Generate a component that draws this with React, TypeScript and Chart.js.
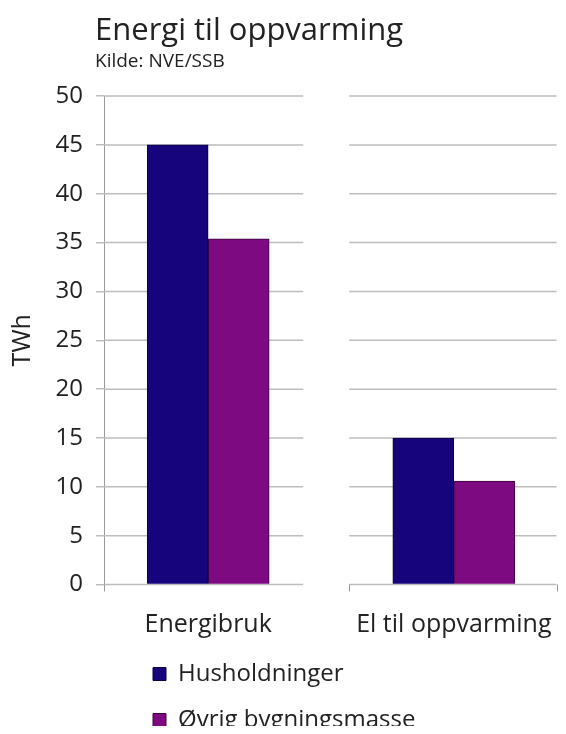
import { useEffect, useRef } from "react";
import { Chart, registerables } from "chart.js";

Chart.register(...registerables);

// ---- data ----
const categories = ["Energibruk", "El til oppvarming"];
const seriesNames = ["Husholdninger", "Øvrig bygningsmasse"];
const husholdninger = [45, 15];
const ovrigBygningsmasse = [35.4, 10.6];
const yTickValues = [0, 5, 10, 15, 20, 25, 30, 35, 40, 45, 50];
const titleText = "Energi til oppvarming";
const subtitleText = "Kilde: NVE/SSB";
const yAxisTitle = "TWh";

// ---- styling / layout constants ----
const FONT = "'Open Sans', 'DejaVu Sans', sans-serif";
const TEXT = "#222222";
const X_MIN = -0.424;
const X_MAX = 1.418;
const GAP_START = 0.387;
const GAP_END = 0.574;

const splitGrid = {
  id: "splitGrid",
  beforeDatasetsDraw(chart: any) {
    const { ctx } = chart;
    const x = chart.scales.x;
    const y = chart.scales.y;
    const segs = [
      [X_MIN, GAP_START],
      [GAP_END, X_MAX],
    ];
    ctx.save();
    ctx.strokeStyle = "#bdbdbd";
    ctx.lineWidth = 1.5;
    y.ticks.forEach((t: any) => {
      const py = y.getPixelForValue(t.value);
      segs.forEach(([a, b]) => {
        ctx.beginPath();
        ctx.moveTo(x.getPixelForValue(a), py);
        ctx.lineTo(x.getPixelForValue(b), py);
        ctx.stroke();
      });
    });
    const py0 = y.getPixelForValue(0);
    ctx.strokeStyle = "#9a9a9a";
    ctx.lineWidth = 1;
    [X_MIN, GAP_END, X_MAX].forEach((v) => {
      const px = Math.round(x.getPixelForValue(v)) + 0.5;
      ctx.beginPath();
      ctx.moveTo(px, py0);
      ctx.lineTo(px, py0 + 7);
      ctx.stroke();
    });
    ctx.restore();
  },
};

const nudge = {
  id: "nudge",
  afterLayout(chart: any) {
    chart.boxes.forEach((b: any) => {
      if (b !== chart.legend && b.options && typeof b.options.text === "string") {
        b.left -= 9;
        b.right -= 9;
      }
    });
    if (chart.legend) {
      chart.legend.left += 27;
      chart.legend.right += 27;
    }
  },
};

export default function App() {
  const ref = useRef<HTMLCanvasElement | null>(null);

  useEffect(() => {
    if (!ref.current) return;
    const chart = new Chart(ref.current, {
      type: "bar",
      data: {
        datasets: [
          {
            label: seriesNames[0],
            data: categories.map((_, i) => ({ x: i, y: husholdninger[i] })),
            backgroundColor: "#16047c",
            borderColor: "#0b0240",
            borderWidth: 1,
            barThickness: 61,
          },
          {
            label: seriesNames[1],
            data: categories.map((_, i) => ({ x: i, y: ovrigBygningsmasse[i] })),
            backgroundColor: "#7d0a80",
            borderColor: "#3a0540",
            borderWidth: 1,
            barThickness: 61,
          },
        ],
      } as any,
      options: {
        responsive: false,
        animation: false,
        layout: { padding: { left: 0, right: 1.5, top: 0, bottom: -8 } },
        plugins: {
          title: {
            display: true,
            text: titleText,
            align: "start",
            fullSize: false,
            color: TEXT,
            font: { family: FONT, size: 31, weight: "normal", lineHeight: 1.1 },
            padding: { top: 6, bottom: 3 },
          },
          subtitle: {
            display: true,
            text: subtitleText,
            align: "start",
            fullSize: false,
            color: TEXT,
            font: { family: FONT, size: 19, weight: "normal", lineHeight: 1.0 },
            padding: { top: 1, bottom: 25 },
          },
          legend: {
            display: true,
            position: "bottom",
            align: "start",
            fullSize: false,
            labels: {
              color: TEXT,
              font: { family: FONT, size: 24 },
              boxWidth: 13,
              boxHeight: 13,
              padding: 22,
            },
          },
          tooltip: { enabled: false },
        },
        scales: {
          x: {
            type: "linear",
            min: X_MIN,
            max: X_MAX,
            offset: false,
            bounds: "data",
            grid: { display: false, drawTicks: false },
            border: { display: false },
            ticks: {
              padding: 25,
              autoSkip: false,
              maxRotation: 0,
              minRotation: 0,
              color: TEXT,
              font: { family: FONT, size: 25 },
              callback: (v: any) => categories[Math.round(Number(v))] ?? "",
            },
            afterBuildTicks: (s: any) => {
              s.ticks = categories.map((_, i) => ({ value: i }));
            },
            afterFit: (s: any) => {
              s.height = 55.5;
              s.paddingLeft = 0;
              s.paddingRight = 0;
            },
          },
          y: {
            type: "linear",
            min: 0,
            max: 50,
            ticks: {
              stepSize: 5,
              padding: 13,
              color: TEXT,
              font: { family: FONT, size: 24 },
            },
            afterBuildTicks: (s: any) => {
              s.ticks = yTickValues.map((v) => ({ value: v }));
            },
            grid: {
              display: true,
              drawOnChartArea: false,
              drawTicks: true,
              tickLength: 8,
              color: "#bdbdbd",
              lineWidth: 1.5,
            },
            border: { display: true, color: "#9a9a9a", width: 1 },
            title: {
              display: true,
              text: yAxisTitle,
              color: TEXT,
              font: { family: FONT, size: 25 },
              padding: { top: 0, bottom: 0 },
            },
            afterFit: (s: any) => {
              s.width = 96;
            },
          },
        },
      } as any,
      plugins: [splitGrid, nudge],
    });
    return () => chart.destroy();
  }, []);

  return (
    <div style={{ height: 726, marginBottom: -8 }}>
      <canvas ref={ref} width={550} height={726} style={{ display: "block" }} />
    </div>
  );
}
